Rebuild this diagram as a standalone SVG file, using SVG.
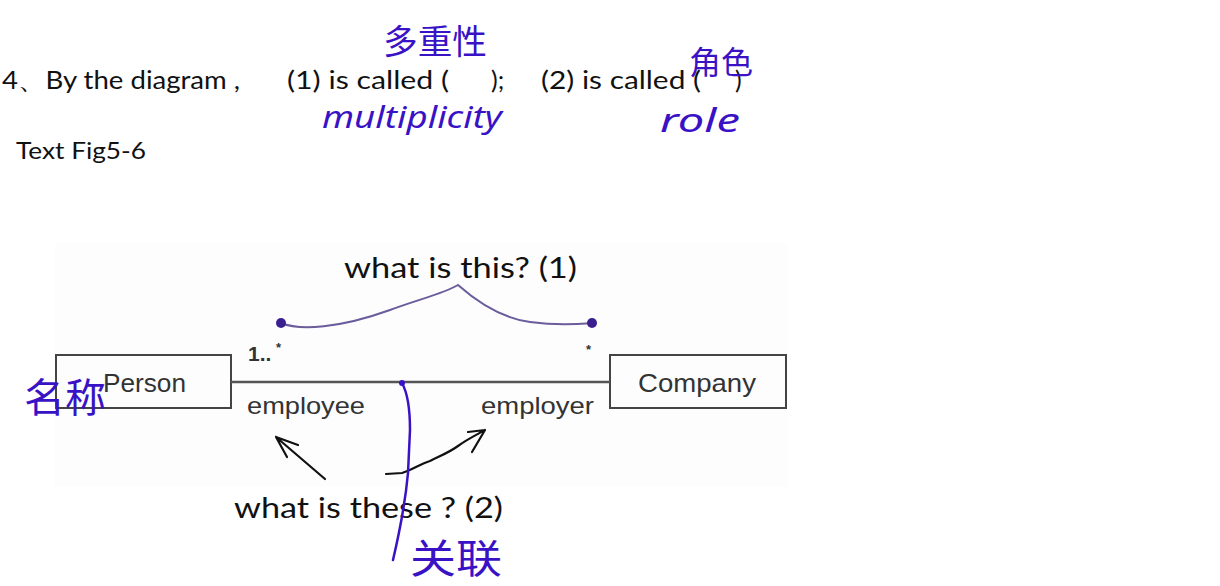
<svg xmlns="http://www.w3.org/2000/svg" width="1220" height="586" viewBox="0 0 1220 586">
<style>
.q{font-family:Lato,"Open Sans","Liberation Sans",sans-serif;fill:#111}
.u{font-family:"Liberation Sans",Arial,sans-serif;fill:#333}
.hw{font-family:"Noto Sans CJK SC","Noto Sans",sans-serif;fill:#3a12c6}
.hwl{font-family:"Noto Sans","Liberation Sans",sans-serif;fill:#3a12c6;font-style:italic}
.box{fill:none;stroke:#444;stroke-width:2}
.ink{fill:none;stroke:#111;stroke-width:2.2;stroke-linecap:round;stroke-linejoin:round}
</style>
<rect width="1220" height="586" fill="#fff"/>
<rect x="55" y="243" width="733" height="244" fill="#fdfdfd"/>

<g id="question">
<text class="q" x="2" y="89" font-size="25" textLength="238" lengthAdjust="spacingAndGlyphs">4、By the diagram ,</text>
<text class="q" x="287" y="89" font-size="25" textLength="162" lengthAdjust="spacingAndGlyphs">(1) is called (</text>
<text class="q" x="491" y="89" font-size="25">);</text>
<text class="q" x="541" y="89" font-size="25" textLength="160" lengthAdjust="spacingAndGlyphs">(2) is called (</text>
<text class="q" x="735" y="89" font-size="25">)</text>
<text class="q" x="16" y="159" font-size="23" textLength="130" lengthAdjust="spacingAndGlyphs">Text Fig5-6</text>
</g>

<g id="title1">
<text class="q" x="344" y="278" font-size="29" textLength="233" lengthAdjust="spacingAndGlyphs">what is this? (1)</text>
</g>
<g id="title2">
<text class="q" x="234" y="518" font-size="29" textLength="269" lengthAdjust="spacingAndGlyphs">what is these ? (2)</text>
</g>

<g id="person">
<rect class="box" x="56" y="355" width="175" height="53"/>
<text class="u" x="103" y="392" font-size="26" textLength="83" lengthAdjust="spacingAndGlyphs">Person</text>
</g>
<g id="company">
<rect class="box" x="610" y="355" width="176" height="53"/>
<text class="u" x="638" y="392" font-size="26" textLength="118" lengthAdjust="spacingAndGlyphs">Company</text>
</g>

<g id="connectors">
<line x1="231" y1="382" x2="610" y2="382" stroke="#555" stroke-width="2.5"/>
<text class="u" x="248" y="361" font-size="21" font-weight="bold" fill="#222">1..</text>
<text class="u" x="276" y="352" font-size="13" font-weight="bold" fill="#222">*</text>
<text class="u" x="586" y="354" font-size="13" font-weight="bold" fill="#222">*</text>
<text class="u" x="247" y="414" font-size="24" textLength="118" lengthAdjust="spacingAndGlyphs">employee</text>
<text class="u" x="481" y="414" font-size="24" textLength="113" lengthAdjust="spacingAndGlyphs">employer</text>
<path d="M281,323 C300,331 340,328 390,310 C420,299 445,293 458,285 C475,300 500,318 530,322 C560,326 580,324 592,323" fill="none" stroke="#6b5c9c" stroke-width="2"/>
<circle cx="281" cy="323" r="5" fill="#3b1f8f"/>
<circle cx="592" cy="323" r="5" fill="#3b1f8f"/>
<path class="ink" d="M325,479 L276,437 M276,437 L298,445 M276,437 L287,457"/>
<path class="ink" d="M386,474 L402,473 C412,470 420,464 430,461 C440,456 450,452 458,446 C466,440 476,435 485,430 M468,432 L485,430 L472,452"/>
</g>

<g id="annotations">
<path d="M402,383 C407,392 410,410 410,430 L408,473 C406,495 400,530 393,560" fill="none" stroke="#3a12c6" stroke-width="2.5" stroke-linecap="round"/>
<circle cx="402" cy="383" r="3" fill="#3a12c6"/>
<text class="hw" x="383" y="54" font-size="34" textLength="104" lengthAdjust="spacingAndGlyphs">多重性</text>
<text class="hwl" x="322" y="128" font-size="30" textLength="180" lengthAdjust="spacingAndGlyphs">multiplicity</text>
<text class="hw" x="689" y="74" font-size="32" textLength="64" lengthAdjust="spacingAndGlyphs">角色</text>
<text class="hwl" x="660" y="132" font-size="32" textLength="80" lengthAdjust="spacingAndGlyphs">role</text>
<text class="hw" x="24" y="412" font-size="40" textLength="82" lengthAdjust="spacingAndGlyphs">名称</text>
<text class="hw" x="410" y="573" font-size="40" textLength="92" lengthAdjust="spacingAndGlyphs">关联</text>
</g>
</svg>
